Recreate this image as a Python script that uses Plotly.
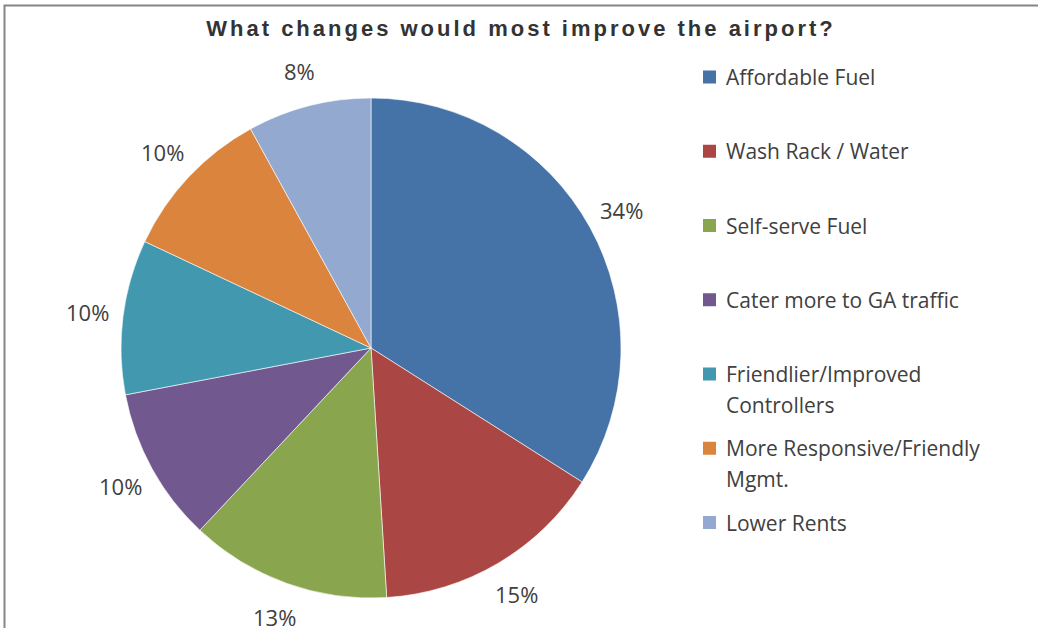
import math
import textwrap
import plotly.graph_objects as go

# Survey responses
categories = [
    "Affordable Fuel",
    "Wash Rack / Water",
    "Self-serve Fuel",
    "Cater more to GA traffic",
    "Friendlier/Improved Controllers",
    "More Responsive/Friendly Mgmt.",
    "Lower Rents",
]
shares = [34, 15, 13, 10, 10, 10, 8]
colors = ["#4572A7", "#AA4643", "#89A54E", "#71588F", "#4198AF", "#DB843D", "#93A9CF"]

W, H = 1038, 628
CX, CY, R = 371, 348, 250          # pie centre and radius (px)
LABEL_R = 286                      # distance of percentage labels from centre
TEXT = "#404040"


def px(x):
    return x / W


def py(y):
    return 1 - y / H


fig = go.Figure(
    go.Pie(
        labels=categories,
        values=shares,
        marker=dict(colors=colors, line=dict(color="white", width=0.6)),
        sort=False,
        direction="clockwise",
        rotation=0,
        textinfo="none",
        hoverinfo="label+percent",
        showlegend=False,
        domain=dict(x=[px(CX - R), px(CX + R)], y=[py(CY + R), py(CY - R)]),
    )
)

annotations = []
shapes = []

# Percentage labels outside each slice
total = sum(shares)
start = 0.0
for v in shares:
    mid = (start + v / 2) / total * 2 * math.pi
    start += v
    lx = CX + LABEL_R * math.sin(mid)
    ly = CY - LABEL_R * math.cos(mid)
    annotations.append(dict(
        x=px(lx), y=py(ly), xref="paper", yref="paper",
        text=f"{round(v / total * 100)}%", showarrow=False,
        xanchor="center", yanchor="middle",
        font=dict(family="Open Sans", size=22, color=TEXT),
    ))

# Legend drawn on the right
LEG_X, LEG_Y0, LEG_STEP, SQ = 703, 77, 74.25, 13
for i, (name, col) in enumerate(zip(categories, colors)):
    yc = LEG_Y0 + i * LEG_STEP
    shapes.append(dict(
        type="rect", xref="paper", yref="paper",
        x0=px(LEG_X), x1=px(LEG_X + SQ), y0=py(yc + SQ / 2), y1=py(yc - SQ / 2),
        fillcolor=col, line=dict(width=0),
    ))
    for j, line in enumerate(textwrap.wrap(name, 24)):
        annotations.append(dict(
            x=px(LEG_X + 21), y=py(yc + j * 30.5), xref="paper", yref="paper",
            text=line, showarrow=False, xanchor="left", yanchor="middle",
            font=dict(family="Open Sans", size=21, color=TEXT),
        ))

# Chart frame
shapes.append(dict(
    type="rect", xref="paper", yref="paper",
    x0=px(4.5), x1=px(W + 10), y0=py(H + 10), y1=py(5.5),
    line=dict(color="#868686", width=2), fillcolor="rgba(0,0,0,0)",
))

fig.update_layout(
    width=W, height=H,
    margin=dict(l=0, r=0, t=0, b=0),
    paper_bgcolor="white",
    title=dict(
        text="<b>What changes would most improve the airport?</b>",
        x=px(521), xanchor="center", y=py(28), yanchor="middle",
        font=dict(family="Liberation Sans", size=22, color="#333333"),
    ),
    annotations=annotations,
    shapes=shapes,
)

# Wider tracking on the title
fig.write_html("out.html", post_script=(
    "document.querySelectorAll('.gtitle').forEach(function(e){"
    "e.style.letterSpacing='3px';});"
))
